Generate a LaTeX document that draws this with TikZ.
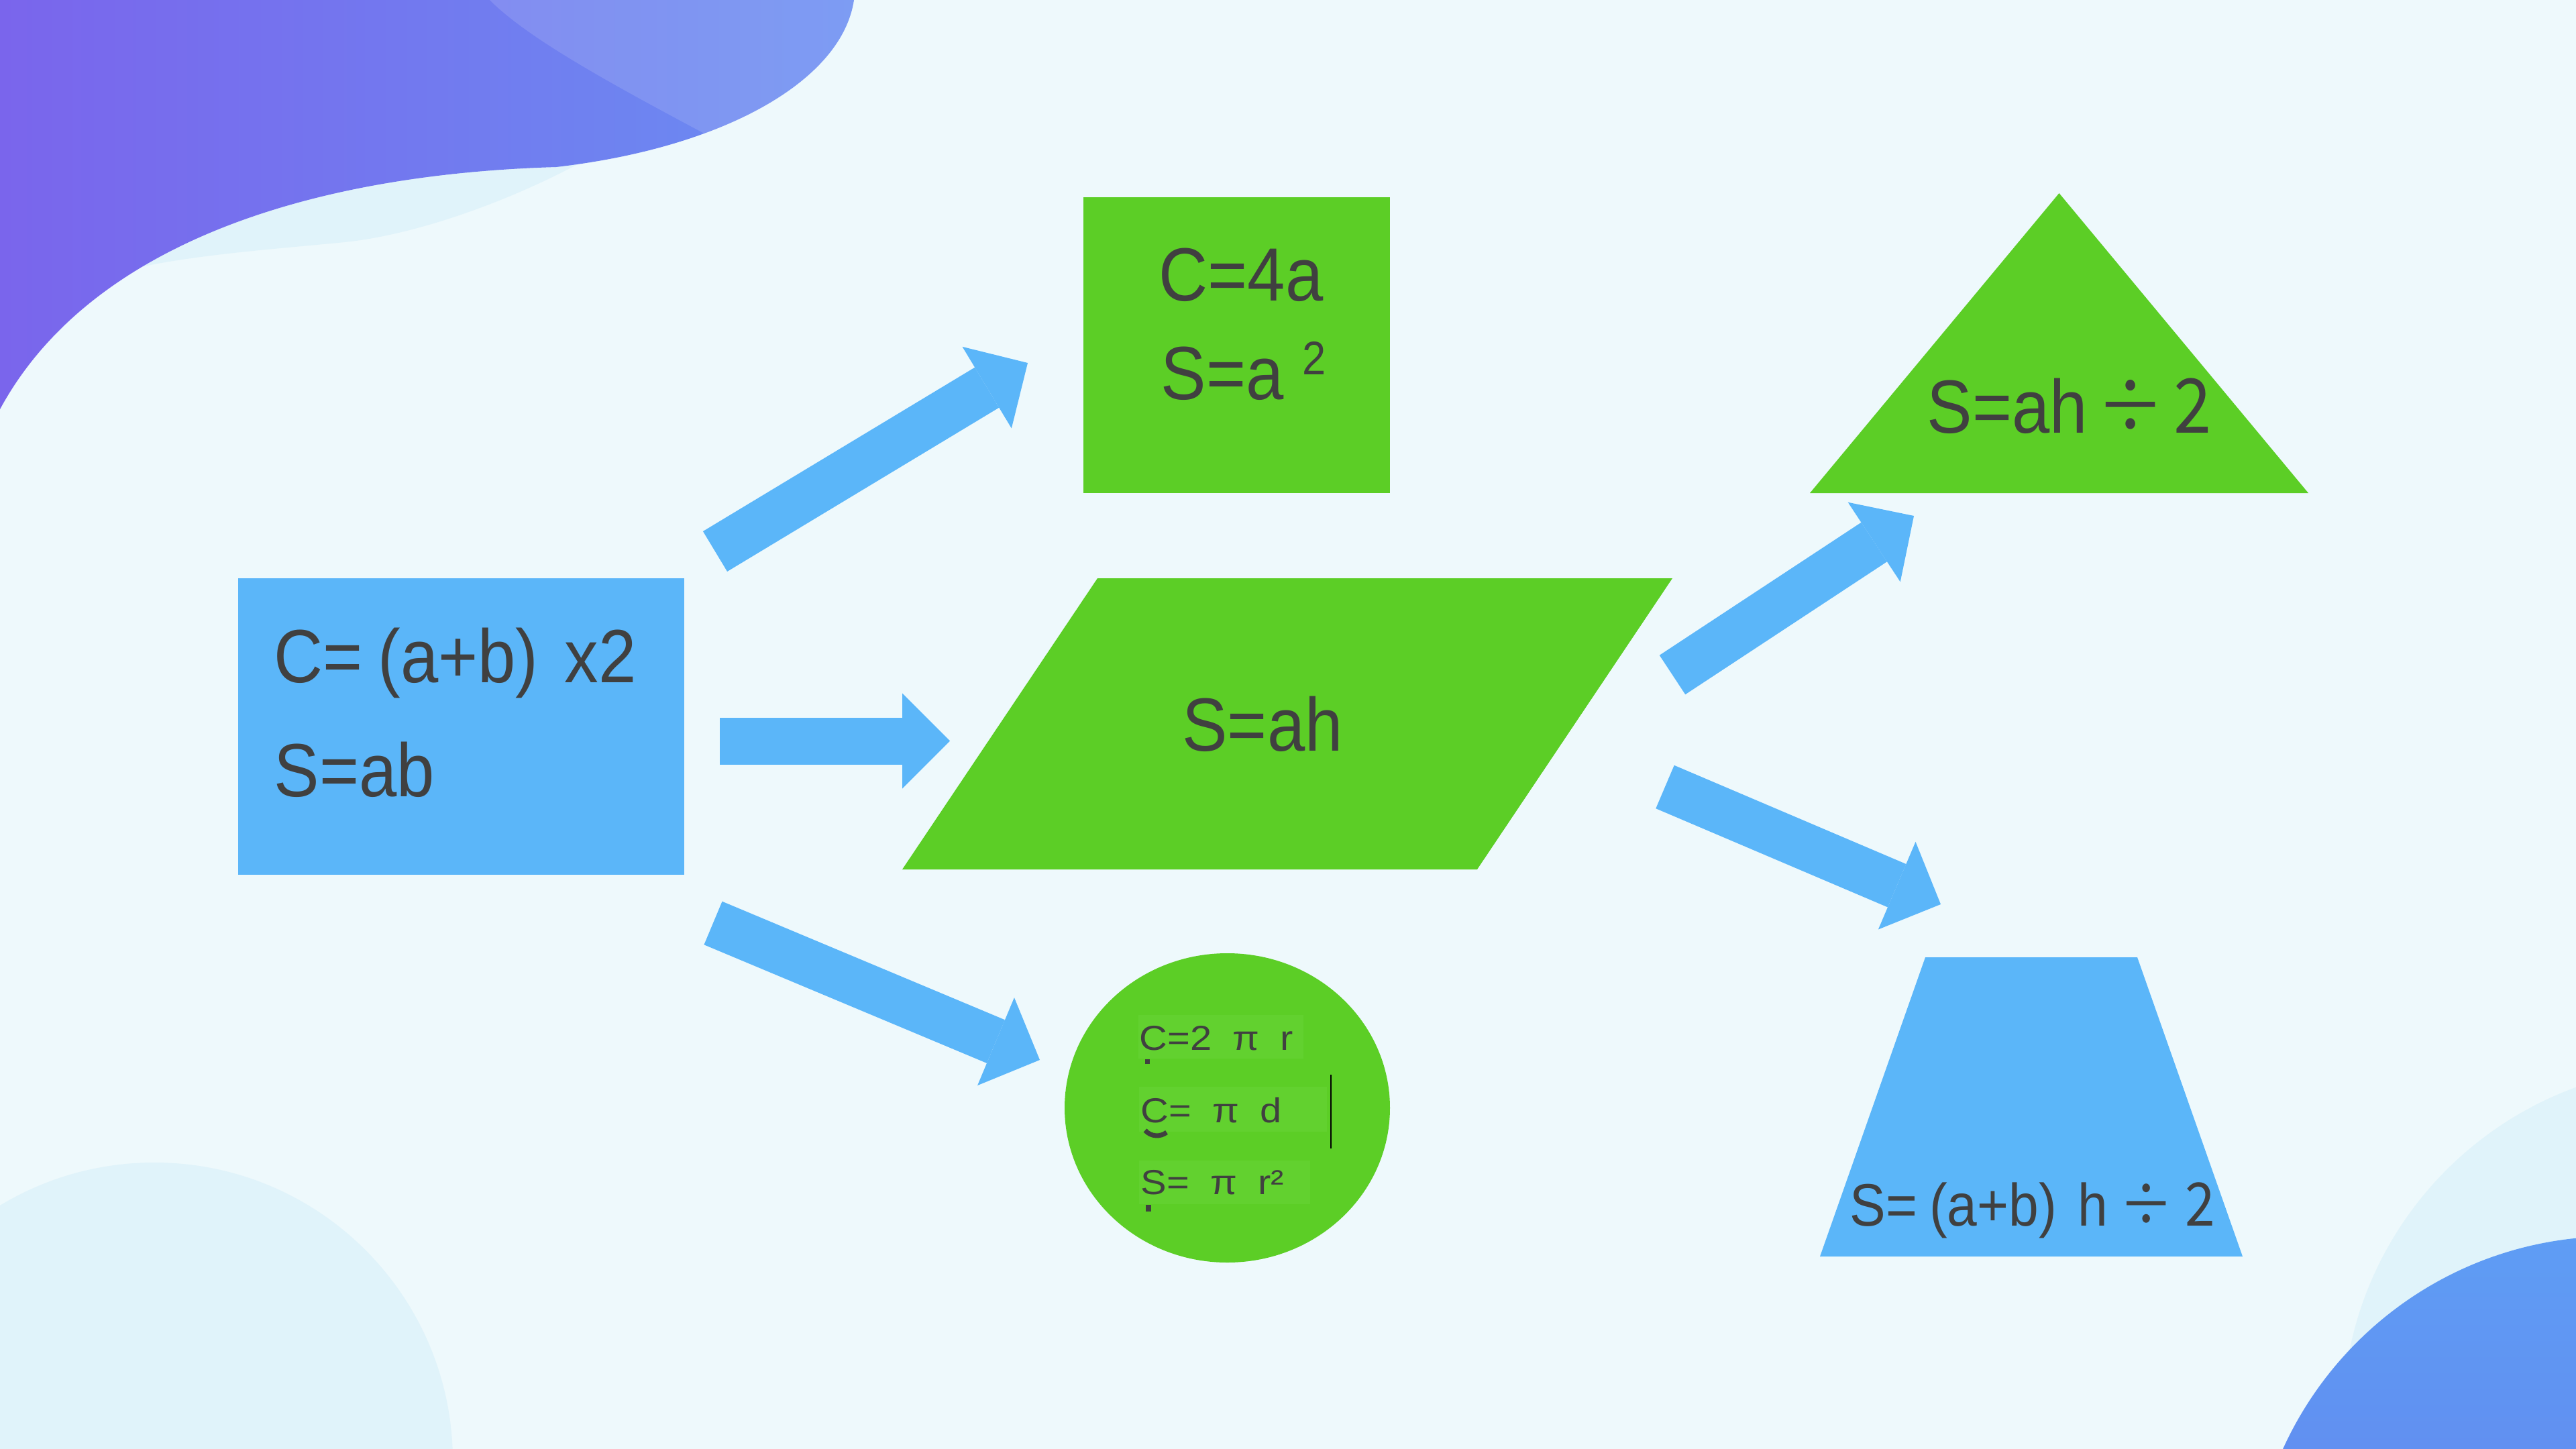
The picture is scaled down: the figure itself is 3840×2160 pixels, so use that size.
\documentclass[tikz,border=0pt]{standalone}
\usepackage{fontspec}
\setmainfont{Liberation Sans}[FakeStretch=0.9]
\newfontfamily\plainsans{Liberation Sans}[FakeStretch=1.12]
\newfontfamily\cjk{Noto Sans CJK SC}[FakeStretch=0.9]
\usepackage{tikz}
\usetikzlibrary{arrows.meta,positioning,shapes.geometric,calc}

\definecolor{bgcyan}{RGB}{238,249,252}
\definecolor{softcyan}{RGB}{224,243,250}
\definecolor{figblue}{RGB}{91,182,249}
\definecolor{figgreen}{RGB}{92,206,38}
\definecolor{boxgreen}{RGB}{98,209,47}
\definecolor{ink}{RGB}{64,64,64}
\definecolor{blobpurple}{RGB}{122,101,236}
\definecolor{blobblue}{RGB}{106,142,242}
\definecolor{cornerlight}{RGB}{95,157,244}
\definecolor{cornerdark}{RGB}{101,112,234}

\tikzset{
  fshape/.style={draw=none,inner sep=0pt,fill=#1},
  formula/.style={text=ink,inner sep=0pt,anchor=base west,
                  font=\fontsize{32}{38}\selectfont},
  cformula/.style={text=ink,inner sep=0pt,anchor=base west,
                   font=\plainsans\fontsize{14.7}{18}\selectfont},
  arr/.style={-{Triangle[length=7.1mm,width=14.2mm,line width=0pt]},
              line width=7mm,draw=figblue},
}

\begin{document}
\begin{tikzpicture}[x=0.1mm,y=-0.1mm]
    \useasboundingbox (0,0) rectangle (3840,2160);
    \clip (0,0) rectangle (3840,2160);
    \fill[bgcyan] (0,0) rectangle (3840,2160);

    % corner decorations
    \fill[softcyan] (230,2178) circle[radius=445];
    \fill[softcyan] (4021,2118) circle[radius=529];
    \shade[top color=cornerlight,bottom color=cornerdark] (3895,2383) circle[radius=540];
    \fill[softcyan] (0,0) -- (900,0) -- (870,240)
      .. controls (760,300) and (620,350) .. (514,361)
      .. controls (400,372) and (290,380) .. (200,400) -- (0,520) -- cycle;
    \shade[left color=blobpurple,right color=blobblue] (0,0) -- (1273,0)
      .. controls (1255,120) and (1080,220) .. (829,249)
      .. controls (450,260) and (130,370) .. (0,610) -- cycle;
    \begin{scope}
      \clip (0,0) -- (1273,0)
        .. controls (1255,120) and (1080,220) .. (829,249)
        .. controls (450,260) and (130,370) .. (0,610) -- cycle;
      \fill[white,fill opacity=0.13] (730,0)
        .. controls (790,60) and (920,130) .. (1080,215)
        -- (1250,320) -- (1400,320) -- (1400,0) -- cycle;
    \end{scope}

    % shapes
    \node[fshape=figblue,minimum width=66.5mm,minimum height=44.2mm] (rect) at (687.5,1083) {};
    \node[fshape=figgreen,minimum width=45.7mm,minimum height=44.1mm] (square) at (1843.5,514.5) {};
    \node[fshape=figgreen,ellipse,minimum width=48.5mm,minimum height=46.1mm] (circ) at (1829.5,1651.5) {};
    \fill[figgreen] (1636,862) -- (2493,862) -- (2202,1296) -- (1345,1296) -- cycle;
    \fill[figgreen] (3069.5,288) -- (3441,735) -- (2698,735) -- cycle;
    \fill[figblue] (2870,1427) -- (3186,1427) -- (3343,1873) -- (2713,1873) -- cycle;

    % arrows
    \coordinate (rect2sq)   at (1066,822);   \coordinate (sqin)   at (1532,541);
    \coordinate (rect2par)  at (1073,1104.5); \coordinate (parin)  at (1416,1104.5);
    \coordinate (rect2circ) at (1063,1376);  \coordinate (circin) at (1550,1580);
    \coordinate (par2tri)   at (2493,1006);  \coordinate (triin)  at (2853,769);
    \coordinate (par2trap)  at (2482,1173);  \coordinate (trapin) at (2893,1348);
    \draw[arr] (rect2sq) -- (sqin);
    \draw[arr] (rect2par) -- (parin);
    \draw[arr] (rect2circ) -- (circin);
    \draw[arr] (par2tri) -- (triin);
    \draw[arr] (par2trap) -- (trapin);

    % formulas
    \node[formula] (rectC) at (408,1017) {C=\hspace{0.2em}(a+b)\hspace{0.35em}x2};
    \node[formula] (rectS) at (408,1187) {S=ab};
    \node[formula] (sqC) at (1727,448) {C=4a};
    \node[formula] (sqS) at (1730,595)
      {S=a\hspace{0.25em}\raisebox{3.7mm}{\fontsize{20}{24}\selectfont 2}};
    \node[formula,anchor=base] (parS) at (1882,1119) {S=ah};
    \node[formula] (triS) at (2872,645) {S=ah\hspace{0.12em}\cjk{÷}\hspace{0.12em}2};
    \node[formula,font=\fontsize{25.4}{30}\selectfont] (trapS) at (2757,1827)
      {S=\hspace{0.2em}(a+b)\hspace{0.35em}h\hspace{0.2em}\cjk{÷}\hspace{0.2em}2};

    % circle formulas
    \fill[boxgreen] (1697,1513) rectangle (1943,1578);
    \fill[boxgreen] (1698,1620) rectangle (1978,1687);
    \fill[boxgreen] (1698,1730) rectangle (1953,1795);
    \node[cformula] (circC) at (1698,1565) {C=2\hspace{0.6em}π\hspace{0.6em}r};
    \node[cformula] (circD) at (1700,1673) {C=\hspace{0.6em}π\hspace{0.6em}d};
    \node[cformula] (circS) at (1700,1780) {S=\hspace{0.6em}π\hspace{0.6em}r²};
    \fill[ink] (1707,1579) rectangle (1714,1586);
    \draw[ink,line width=0.7mm] (1707,1685) .. controls (1716,1695) and (1730,1695) .. (1739,1688);
    \fill[ink] (1708,1796) rectangle (1716,1806);
    \draw[black,line width=0.2mm] (1984,1602) -- (1984,1712);
\end{tikzpicture}
\end{document}
